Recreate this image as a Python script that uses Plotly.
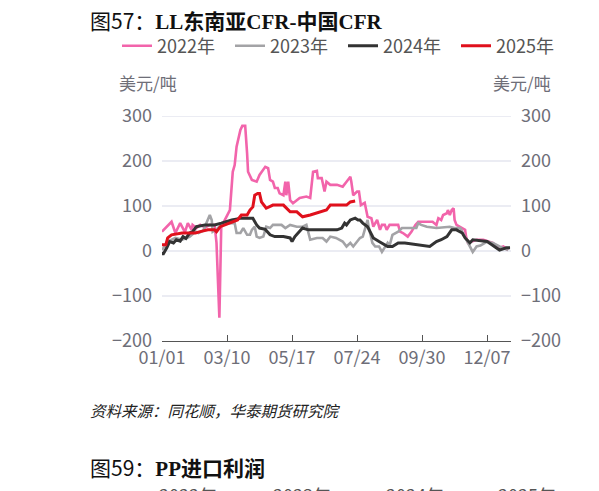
import pandas as pd
import plotly.graph_objects as go

# day offsets from 01/01 and values (USD/t)
days_2022 = [0, 10, 14, 19, 24, 27, 31, 32, 36, 40, 45, 50, 55, 57, 60, 62, 64, 71, 74, 76,
             78, 82, 84, 87, 89, 90, 94, 99, 102, 108, 111, 113, 116, 118, 121, 123, 127, 129,
             130, 132, 134, 137, 144, 151, 155, 158, 162, 163, 167, 170, 172, 176, 183, 189,
             193, 197, 198, 200, 204, 206, 208, 212, 215, 219, 221, 225, 228, 230, 233, 235,
             238, 247, 249, 252, 257, 261, 265, 268, 283, 287, 289, 292, 294, 298, 299, 301,
             303, 305, 306, 308, 317, 318, 320, 324, 329, 336, 343, 346, 353, 357, 362]
vals_2022 = [43, 65, 40, 62, 42, 62, 47, 58, 51, 58, 52, 58, 58, 18, -148, 58, 62, 91, 176, 191,
             232, 269, 278, 278, 217, 176, 158, 154, 169, 187, 184, 158, 154, 140, 140, 128, 124, 154,
             124, 154, 113, 106, 118, 121, 118, 176, 178, 162, 162, 132, 154, 147, 147, 143,
             154, 165, 154, 124, 132, 132, 102, 107, 76, 73, 54, 69, 47, 58, 58, 47,
             58, 58, 43, 40, 32, 43, 58, 65, 65, 58, 73, 69, 80, 84, 91, 80,
             91, 95, 69, 58, 47, 32, 18, 21, 25, 25, 21, 18, 7, 10, 2]

days_2023 = [0, 6, 14, 21, 26, 29, 35, 38, 43, 48, 50, 52, 53, 58, 62, 66, 76, 78, 82, 85,
             89, 92, 94, 97, 99, 102, 106, 109, 113, 116, 125, 129, 134, 141, 147, 151, 155,
             162, 168, 172, 176, 182, 189, 193, 197, 200, 204, 207, 210, 212, 215, 216, 218,
             220, 223, 227, 230, 233, 236, 238, 241, 247, 251, 262, 266, 268, 271, 277, 287,
             301, 306, 312, 319, 322, 325, 329, 333, 340, 346, 353, 357, 362]
vals_2023 = [2, 21, 29, 25, 29, 32, 43, 40, 45, 69, 80, 69, 43, 50, 58, 62, 62, 40, 40, 51,
             36, 36, 47, 54, 32, 29, 32, 54, 51, 58, 58, 51, 58, 54, 54, 58, 25,
             29, 29, 21, 32, 29, 21, 10, 18, 10, 21, 29, 32, 47, 69, 55, 36,
             18, 10, 10, -2, 7, 18, 12, 36, 43, 51, 51, 51, 62, 58, 54, 51,
             54, 51, 51, 21, 10, -2, 10, 12, 21, 18, 10, 7, 2]

days_2024 = [0, 1, 5, 8, 12, 15, 19, 22, 25, 29, 32, 36, 45, 55, 62, 73, 83, 95, 99, 102,
             108, 113, 118, 127, 134, 136, 139, 142, 147, 153, 158, 183, 188, 191, 193, 197,
             202, 205, 207, 210, 215, 218, 221, 227, 232, 236, 241, 247, 254, 266, 280, 287,
             292, 298, 303, 308, 314, 317, 322, 325, 340, 345, 350, 353, 360, 364]
vals_2024 = [-2, -8, 7, 21, 18, 25, 22, 32, 28, 40, 43, 54, 58, 58, 62, 69, 73, 73, 58, 51,
             48, 36, 32, 32, 29, 21, 32, 40, 51, 47, 47, 47, 51, 62, 58, 69,
             73, 69, 69, 62, 54, 40, 29, 21, 14, 10, 10, 18, 18, 14, 10, 21,
             25, 32, 47, 47, 40, 29, 18, 25, 21, 14, 7, 2, 7, 7]

days_2025 = [0, 4, 6, 10, 21, 35, 40, 48, 55, 57, 61, 66, 73, 79, 83, 89, 92, 95, 97, 100,
             102, 104, 109, 116, 127, 134, 141, 147, 155, 162, 172, 176, 193, 197, 202]
vals_2025 = [14, 14, 29, 36, 40, 40, 43, 47, 47, 43, 54, 58, 65, 69, 80, 80, 91, 98, 124, 128,
             128, 109, 95, 102, 102, 87, 87, 76, 80, 84, 91, 102, 102, 109, 111]

years = ['2022年', '2023年', '2024年', '2025年']
colors = ['#f264ab', '#a3a3a6', '#333333', '#e0101c']
widths = [2.6, 2.6, 3, 3]
series = [(days_2022, vals_2022), (days_2023, vals_2023),
          (days_2024, vals_2024), (days_2025, vals_2025)]

tick_dates = ['2022-01-01', '2022-03-10', '2022-05-17', '2022-07-24', '2022-09-30', '2022-12-07']
y_ticks = [300, 200, 100, 0, -100, -200]
grid_vals = [300, 200, 100, 0, -100]

OFF = 8                             # the page body adds an 8px margin
W, H = 599 - OFF, 491 - OFF
L, R, T, B = 162 - OFF, 511 - OFF, 116 - OFF, 341 - OFF   # plot area in figure pixels
base = pd.Timestamp('2022-01-01')
text_grey = '#6e6e78'
cjk = 'Noto Sans CJK SC'
serif_b = '<b><span style="font-family:Liberation Serif, Noto Sans CJK SC">{}</span></b>'


def px(x, y):
    # page pixel -> paper fraction
    return (x - OFF - L) / (R - L), (B - (y - OFF)) / (B - T)


fig = go.Figure()

for name, color, w, (d, v) in zip(years, colors, widths, series):
    x = base + pd.to_timedelta(d, unit='D')
    fig.add_trace(go.Scatter(x=x, y=v, name=name, mode='lines',
                             line=dict(color=color, width=w)))

# invisible trace to carry the right-hand axis
fig.add_trace(go.Scatter(x=[base], y=[0], yaxis='y2', showlegend=False,
                         mode='markers', marker=dict(opacity=0), hoverinfo='skip'))

for g in grid_vals:
    fig.add_hline(y=g, line=dict(color='#d8dae8', width=1.2), layer='below')

leg_x, leg_y = px(117, 46)
fig.update_layout(
    width=W, height=H,
    margin=dict(l=L, r=W - R, t=T, b=H - B, autoexpand=False),
    paper_bgcolor='white', plot_bgcolor='white',
    font=dict(family=cjk, color=text_grey, size=16),
    showlegend=True,
    legend=dict(orientation='h', x=leg_x, xanchor='left',
                y=leg_y, yanchor='middle',
                font=dict(size=18, color='#555555'),
                itemwidth=30, entrywidth=68, entrywidthmode='pixels',
                bgcolor='rgba(0,0,0,0)'),
    xaxis=dict(type='date', range=['2022-01-01', '2023-01-01'],
               tickvals=tick_dates, tickformat='%m/%d',
               showgrid=False, zeroline=False,
               showline=True, linecolor='#555555', linewidth=1.2,
               ticks='inside', ticklen=6, tickcolor='#555555',
               tickfont=dict(size=18, color=text_grey)),
    yaxis=dict(range=[-200, 300], tickvals=y_ticks,
               showgrid=False, zeroline=False, showline=False,
               ticks='', ticklabelstandoff=9, tickfont=dict(size=18, color=text_grey)),
    yaxis2=dict(range=[-200, 300], tickvals=y_ticks,
                overlaying='y', side='right', showgrid=False, zeroline=False,
                showline=False, ticks='', ticklabelstandoff=9,
                tickfont=dict(size=18, color=text_grey)),
)

# titles, units, footnote and the cropped neighbours (positions in page pixels)
annos = [
    ('图57：' + serif_b.format('LL东南亚CFR-中国CFR'), 88, 20, 21, '#111111'),
    ('美元/吨', 117, 83, 17, text_grey),
    ('美元/吨', 491, 83, 17, text_grey),
    ('<i>资料来源：同花顺，华泰期货研究院</i>', 88, 410, 15.5, '#222222'),
    ('图59：' + serif_b.format('PP进口利润'), 88, 467, 21, '#111111'),
    ('2022年', 157, 495, 18, '#555555'),
    ('2023年', 271, 495, 18, '#555555'),
    ('2024年', 384, 495, 18, '#555555'),
    ('2025年', 496, 495, 18, '#555555'),
    ('图58：', 595, 20, 21, '#111111'),
    ('<i>资料</i>', 595, 410, 15.5, '#222222'),
    ('图60：', 595, 467, 21, '#111111'),
]
for text, x, y, size, color in annos:
    ax, ay = px(x, y)
    fig.add_annotation(text=text, x=ax, y=ay, xref='paper', yref='paper',
                       xanchor='left', yanchor='middle', showarrow=False,
                       font=dict(size=size, color=color, family=cjk))

fig.write_html('out.html')
